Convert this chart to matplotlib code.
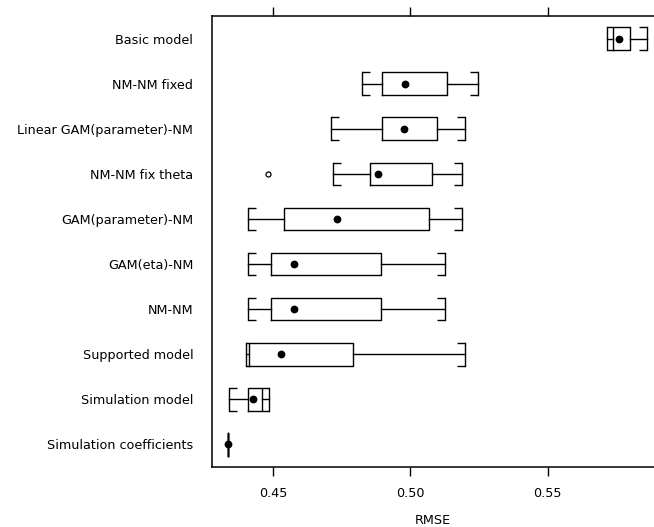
import matplotlib
matplotlib.use("Agg")
import matplotlib.pyplot as plt

categories = ["Basic model", "NM-NM fixed", "Linear GAM(parameter)-NM", "NM-NM fix theta",
              "GAM(parameter)-NM", "GAM(eta)-NM", "NM-NM", "Supported model",
              "Simulation model", "Simulation coefficients"]
whis_lo = [0.5715, 0.4825, 0.4710, 0.4717, 0.4410, 0.4410, 0.4410, 0.4403, 0.4340, 0.4336]
q1      = [0.5737, 0.4898, 0.4898, 0.4852, 0.4539, 0.4493, 0.4493, 0.4414, 0.4410, 0.4336]
median  = [0.5758, 0.4981, 0.4978, 0.4881, 0.4733, 0.4578, 0.4578, 0.4528, 0.4428, 0.4336]
q3      = [0.5800, 0.5132, 0.5097, 0.5080, 0.5069, 0.4893, 0.4893, 0.4790, 0.4461, 0.4336]
whis_hi = [0.5863, 0.5245, 0.5199, 0.5188, 0.5188, 0.5125, 0.5125, 0.5199, 0.4485, 0.4336]
outliers = [[], [], [], [0.4481], [], [], [], [], [], []]
xticks = [0.45, 0.50, 0.55]
xticklabels = ["0.45", "0.50", "0.55"]

plt.rcParams['font.family'] = ['DejaVu Sans']

fig = plt.figure(figsize=(6.54, 5.27), dpi=100)
ax = fig.add_axes([212/654, 1 - 467/527, 1 - 212/654, (467 - 16)/527])

n = len(categories)
pos = [n - i for i in range(n)]
lw = 1.0
bw = 0.5
stats = []
for i in range(n):
    stats.append(dict(med=median[i], q1=q1[i], q3=q3[i], whislo=whis_lo[i],
                      whishi=whis_hi[i], fliers=outliers[i], label=categories[i]))

ax.bxp(stats, positions=pos, widths=bw, orientation='horizontal',
       showcaps=True, capwidths=bw, patch_artist=False,
       boxprops=dict(color='black', linewidth=lw),
       whiskerprops=dict(color='black', linewidth=lw),
       capprops=dict(color='black', linewidth=lw),
       medianprops=dict(visible=False),
       flierprops=dict(marker='o', markersize=3.6, markerfacecolor='white',
                       markeredgecolor='black', markeredgewidth=0.9))

# median dots
ax.plot(median, pos, linestyle='none', marker='o', markersize=4.6, color='black', zorder=5)

# bracket-shaped cap stubs
stub = 0.0029
for p, lo, a, b, hi in zip(pos, whis_lo, q1, q3, whis_hi):
    sl = min(stub, a - lo)
    sh = min(stub, hi - b)
    for yy in (p - bw / 2, p + bw / 2):
        if sl > 0:
            ax.plot([lo, lo + sl], [yy, yy], color='black', linewidth=lw, solid_capstyle='butt')
        if sh > 0:
            ax.plot([hi - sh, hi], [yy, yy], color='black', linewidth=lw, solid_capstyle='butt')

ax.set_xlim(0.4278, 0.5887)
ax.set_ylim(0.5, n + 0.5)
ax.set_yticks(pos)
ax.set_yticklabels(categories, fontsize=9.2)
ax.tick_params(axis='y', length=0, pad=13.5)
ax.set_xticks(xticks)
ax.set_xticklabels(xticklabels, fontsize=9.2)
ax.tick_params(axis='x', direction='out', length=6.5, width=1.0, pad=8,
               top=True, labeltop=False)
ax.spines['right'].set_visible(False)
for s in ('left', 'top', 'bottom'):
    ax.spines[s].set_linewidth(1.1)
ax.set_xlabel("RMSE", fontsize=9.2, labelpad=10)

fig.savefig("out.png", dpi=100)
